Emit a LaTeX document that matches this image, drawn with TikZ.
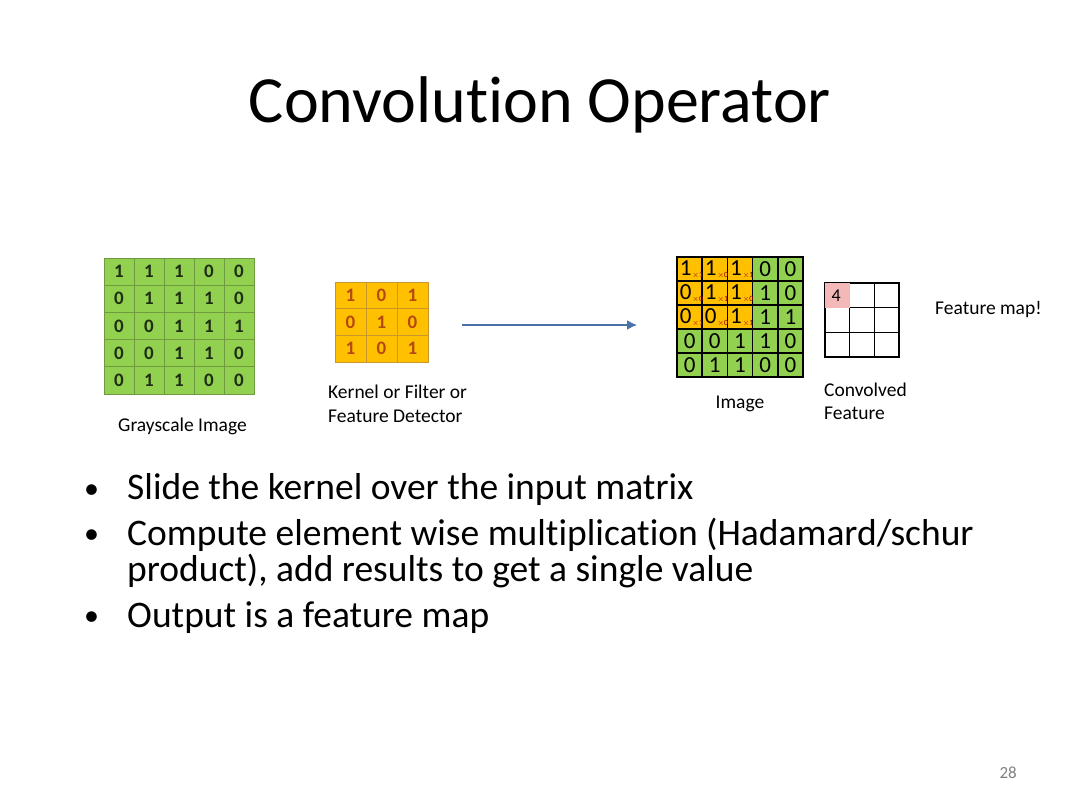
\documentclass[tikz,border=0pt]{standalone}
\usepackage{fontspec}
\setmainfont{Carlito}[Ligatures=NoCommon]
\usetikzlibrary{arrows.meta}
\definecolor{gfill}{HTML}{92D050}
\definecolor{gline}{HTML}{6E9A40}
\definecolor{gtext}{HTML}{1E2E12}
\definecolor{ofill}{HTML}{FFC000}
\definecolor{oline}{HTML}{C8962A}
\definecolor{otext}{HTML}{B5480E}
\definecolor{pfill}{HTML}{F4B8B8}
\definecolor{arrowc}{HTML}{4A72A8}
\definecolor{subred}{HTML}{A00000}
\begin{document}
\begin{tikzpicture}[x=1pt,y=-1pt,
  gcell/.style={draw=gline,line width=0.8pt,fill=gfill,minimum width=30pt,minimum height=27.2pt,inner sep=0pt,text=gtext,font=\fontsize{19}{19}\selectfont\bfseries},
  kcell/.style={draw=oline,line width=0.8pt,fill=ofill,minimum width=31pt,minimum height=26.7pt,inner sep=0pt,text=otext,font=\fontsize{19}{19}\selectfont\bfseries},
  icell/.style={draw=black,line width=1.5pt,minimum width=25.2pt,minimum height=24pt,inner sep=0pt,font=\fontsize{23}{23}\selectfont},
  digit/.style={inner sep=0pt,font=\fontsize{23}{23}\selectfont},
  ccell/.style={draw=black,line width=1.4pt,minimum width=24.7pt,minimum height=24.7pt,inner sep=0pt},
  subtxt/.style={text=subred,font=\fontsize{8}{8}\selectfont,inner sep=0pt},
  lbl/.style={font=\fontsize{19.5}{23}\selectfont,inner sep=0pt,anchor=base west},
  bul/.style={font=\fontsize{37.5}{40}\selectfont,inner sep=0pt,anchor=base west},
  dot/.style={font=\fontsize{30}{30}\selectfont,inner sep=0pt,anchor=base west}]
\useasboundingbox (0,0) rectangle (1080,810);
\fill[white] (0,0) rectangle (1080,810);
\node[font=\fontsize{66}{70}\selectfont,anchor=base,inner sep=0pt] (title) at (540,123) {Convolution Operator};
% grayscale image
\foreach \row [count=\r from 0] in {{1,1,1,0,0},{0,1,1,1,0},{0,0,1,1,1},{0,0,1,1,0},{0,1,1,0,0}}
  \foreach \v [count=\c from 0] in \row
    \node[gcell] (g-\r-\c) at (119+30*\c,271.6+27.2*\r) {\v};
% kernel
\foreach \row [count=\r from 0] in {{1,0,1},{0,1,0},{1,0,1}}
  \foreach \v [count=\c from 0] in \row
    \node[kcell] (k-\r-\c) at (350.5+31*\c,295.35+26.7*\r) {\v};
% image
\foreach \row [count=\r from 0] in {{1,1,1,0,0},{0,1,1,1,0},{0,0,1,1,1},{0,0,1,1,0},{0,1,1,0,0}}
  \foreach \v [count=\c from 0] in \row {
    \pgfmathsetmacro{\isin}{(\r<3)&&(\c<3)}
    \ifdim\isin pt>0.5pt
      \node[icell,fill=ofill] (i-\r-\c) at (689.6+25.2*\c,269+24*\r) {};
      \node[digit] (d-\r-\c) at ([xshift=-4pt,yshift=1pt]i-\r-\c.center) {\v};
    \else
      \node[icell,fill=gfill] (i-\r-\c) at (689.6+25.2*\c,269+24*\r) {\v};
    \fi
  }
\foreach \row [count=\r from 0] in {{1,0,1},{0,1,0},{1,0,1}}
  \foreach \v [count=\c from 0] in \row
    \node[subtxt,anchor=south west] (s-\r-\c) at ([xshift=0.6pt,yshift=-3.5pt]d-\r-\c.base east) {$\times$\v};
% convolved feature
\foreach \r in {0,1,2}
  \foreach \c in {0,1,2}
    \node[ccell] (c-\r-\c) at (837.35+24.7*\c,295.35+24.7*\r) {};
\fill[pfill] ([shift={(0.7pt,0.7pt)}]c-0-0.south west) rectangle ([shift={(-0.7pt,-0.7pt)}]c-0-0.north east);
\node[font=\fontsize{18}{18}\selectfont,anchor=west,inner sep=0pt] (four) at ([xshift=7pt]c-0-0.west) {4};
% arrow
\coordinate (a1) at (462,325);
\coordinate (a2) at (637,325);
\draw[arrowc,line width=1.6pt,-{Latex[length=10pt,width=10pt]}] (a1) -- (a2);
% labels
\node[lbl] (lg) at (118,432) {Grayscale Image};
\node[lbl] (lk1) at (328,399) {Kernel or Filter or};
\node[lbl] (lk2) at (328,423) {Feature Detector};
\node[lbl,anchor=base] (li) at (740,409) {Image};
\node[lbl] (lc1) at (824,397) {Convolved};
\node[lbl] (lc2) at (824,420) {Feature};
\node[lbl] (lf) at (935,315) {Feature map!};
% bullets
\node[dot] (b1d) at (84,498) {•};
\node[bul] (b1) at (127,500) {Slide the kernel over the input matrix};
\node[dot] (b2d) at (84,543) {•};
\node[bul] (b2) at (127,545) {Compute element wise multiplication (Hadamard/schur};
\node[bul] (b2b) at (127,581) {product), add results to get a single value};
\node[dot] (b3d) at (84,625) {•};
\node[bul] (b3) at (127,627) {Output is a feature map};
\node[font=\fontsize{17}{17}\selectfont,text=gray,anchor=base east,inner sep=0pt] (pn) at (1017,778) {28};
\end{tikzpicture}
\end{document}
